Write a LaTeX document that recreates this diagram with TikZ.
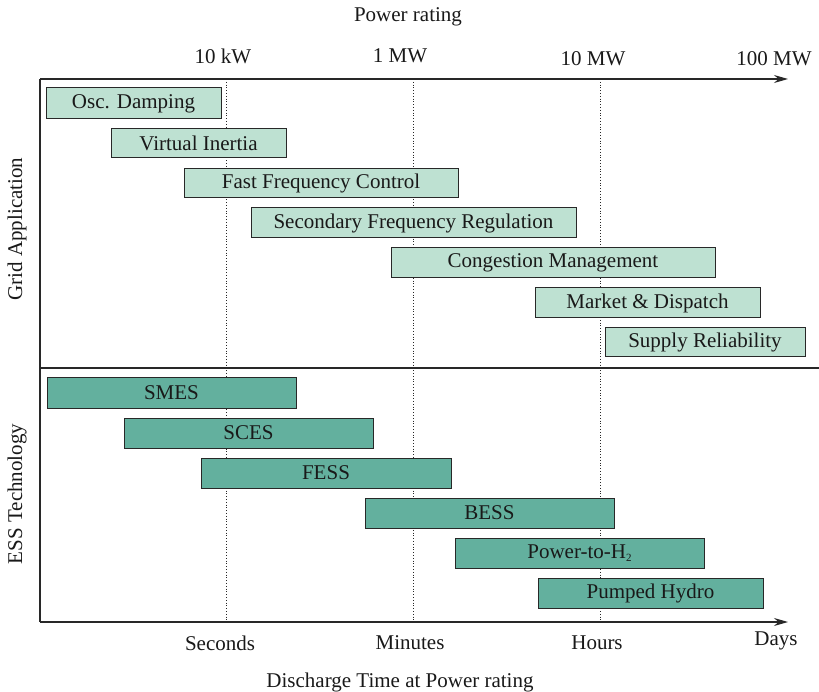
\documentclass[tikz,border=0pt]{standalone}
\usepackage{fontspec}
\setmainfont{Liberation Serif}
\usetikzlibrary{arrows.meta}
\definecolor{appfill}{RGB}{190,225,210}
\definecolor{essfill}{RGB}{99,176,158}
\definecolor{axisgray}{RGB}{40,40,40}
\tikzset{
  axisline/.style={draw=axisgray, line width=1.2pt},
  axisarrow/.style={axisline, -{Stealth[length=14pt,width=8pt]}},
  gridline/.style={draw=axisgray, line width=0.8pt, dotted},
  bar/.style={draw=axisgray, line width=1pt, inner sep=0pt, outer sep=0pt},
  appbar/.style={bar, fill=appfill},
  essbar/.style={bar, fill=essfill},
  lbl/.style={font=\fontsize{21}{25}\selectfont, text=black!90, inner sep=0pt},
}
% small, low subscript
\newcommand{\lowsub}[1]{\raisebox{-0.3ex}{\fontsize{11}{12}\selectfont #1}}
\newcommand{\barnode}[7]{%
  % #1 style, #2 name, #3 x1, #4 x2, #5 y1, #6 y2, #7 text
  \path[#1] (#3,#5) rectangle (#4,#6);
  \node[lbl] (#2) at ({(#3+#4)/2},{(#5+#6)/2}) {#7};
}
\begin{document}
\begin{tikzpicture}[x=1pt,y=-1pt]
\useasboundingbox (0,0) rectangle (819,692);

% frame
\coordinate (frtl) at (40,79);
\coordinate (frbl) at (40,622);
\coordinate (frtr) at (788,79);
\coordinate (frbr) at (788,622);
\coordinate (sepl) at (40,368);
\coordinate (sepr) at (819,368);

% dotted reference lines
\foreach \x/\n in {226/a,413/b,600/c}{
  \coordinate (g\n t) at (\x,79);
  \coordinate (g\n b) at (\x,622);
  \draw[gridline] (g\n t) -- (g\n b);
}

% application bars
\barnode{appbar}{osc}{46}{221}{88}{119}{Osc. Damping}
\barnode{appbar}{vi}{111}{286}{129}{158}{Virtual Inertia}
\barnode{appbar}{ffc}{184}{458}{169}{198}{Fast Frequency Control}
\barnode{appbar}{sfr}{251}{576}{208}{238}{Secondary Frequency Regulation}
\barnode{appbar}{cm}{391}{715}{248}{278}{Congestion Management}
\barnode{appbar}{md}{535}{760}{288}{318}{Market \& Dispatch}
\barnode{appbar}{suprel}{605}{805}{328}{357}{Supply Reliability}

% storage technology bars
\barnode{essbar}{smes}{47}{296}{378}{408}{SMES}
\barnode{essbar}{sces}{124}{373}{418}{448}{SCES}
\barnode{essbar}{fess}{201}{451}{458}{488}{FESS}
\barnode{essbar}{bess}{365}{614}{498}{528}{BESS}
\barnode{essbar}{pth}{455}{704}{538}{568}{Power-to-H\lowsub{2}}
\barnode{essbar}{ph}{538}{763}{578}{608}{Pumped Hydro}

% axes
\draw[axisline] (frtl) -- (frbl);
\draw[axisarrow] (frtl) -- (frtr);
\draw[axisarrow] (frbl) -- (frbr);
\draw[axisline] (sepl) -- (sepr);

% power rating labels
\node[lbl] (ptitle) at (408,17) {Power rating};
\node[lbl] (p1) at (223,56) {10 kW};
\node[lbl] (p2) at (400,56) {1 MW};
\node[lbl] (p3) at (593,59) {10 MW};
\node[lbl] (p4) at (774,59) {100 MW};

% discharge time labels
\node[lbl] (t1) at (220,643) {Seconds};
\node[lbl] (t2) at (410,643) {Minutes};
\node[lbl] (t3) at (597,643) {Hours};
\node[lbl] (t4) at (776,641) {Days};
\node[lbl] (ttitle) at (400,682) {Discharge Time at Power rating};

% row group labels
\node[lbl, rotate=90] (ga) at (17,229) {Grid Application};
\node[lbl, rotate=90] (et) at (17,494) {ESS Technology};
\end{tikzpicture}
\end{document}
